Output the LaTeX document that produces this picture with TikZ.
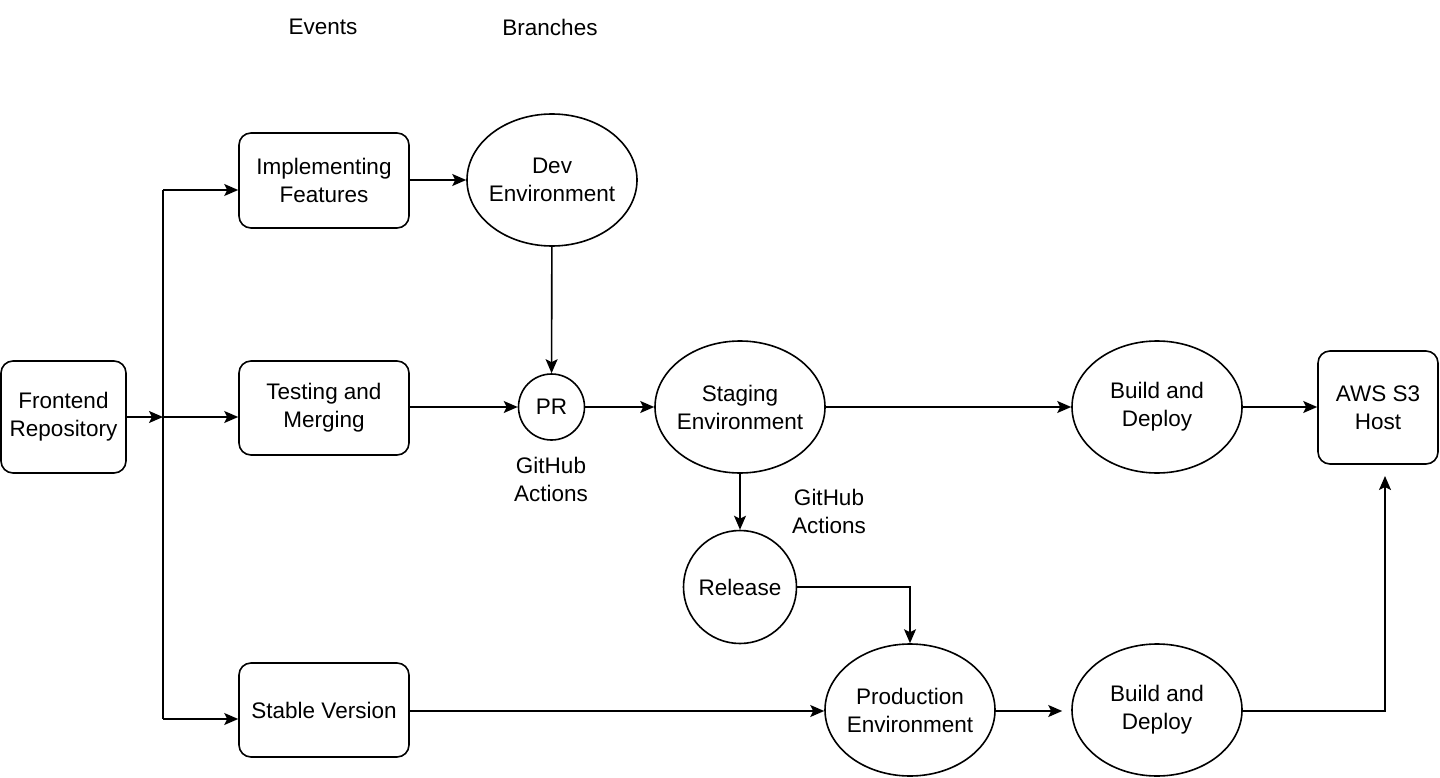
\documentclass[tikz,border=0pt]{standalone}
\usepackage{fontspec}
\setmainfont{Liberation Sans}
\usetikzlibrary{arrows.meta,shapes.geometric,calc}
\begin{document}
\begin{tikzpicture}[x=1pt,y=-1pt,
  every node/.style={font=\fontsize{22.5}{28}\selectfont, align=center, inner sep=0pt},
  rbox/.style={draw, line width=1.6pt, rounded corners=12pt, minimum width=#1},
  ell/.style={draw, line width=1.6pt, ellipse, inner sep=-14pt, minimum width=170pt, minimum height=132pt},
  circ/.style={draw, line width=1.6pt, circle, inner sep=-14pt, minimum size=#1},
  arr/.style={line width=1.6pt, -{Stealth[length=14pt,width=12pt,inset=3pt]}},
  ln/.style={line width=1.6pt}]
\useasboundingbox (0,0) rectangle (1440,778);
% labels
\node (events) at (323,27) {Events};
\node (branches) at (550,27) {Branches};
% nodes
\node[rbox=125pt, minimum height=112pt] (repo) at (63.5,417) {Frontend\\Repository};
\node[rbox=170pt, minimum height=95pt] (impl) at (324,180.5) {Implementing\\Features};
\node[rbox=170pt, minimum height=94pt] (test) at (324,408) {Testing and\\Merging};
\node[rbox=170pt, minimum height=94pt] (stable) at (324,710) {Stable Version};
\node[ell] (dev) at (552,180) {Dev\\Environment};
\node[circ=66pt] (pr) at (551.5,407) {PR};
\node (gh1) at (551,479) {GitHub\\Actions};
\node[ell] (staging) at (740,407) {Staging\\Environment};
\node (gh2) at (829,511) {GitHub\\Actions};
\node[circ=113pt] (release) at (740,587) {Release};
\node[ell] (prod) at (910,710) {Production\\Environment};
\node[ell] (bd1) at (1157,407) {Build and\\Deploy};
\node[ell] (bd2) at (1157,710) {Build and\\Deploy};
\node[rbox=120pt, minimum height=113pt] (aws) at (1378,407.5) {AWS S3\\Host};
% branch structure
\coordinate (j) at (163,417);
\coordinate (jt) at (163,190);
\coordinate (jb) at (163,719);
\draw[arr] (repo.east |- j) -- (j);
\draw[ln] (jt) -- (jb);
\draw[arr] (jt) -- (impl.west |- jt);
\draw[arr] (j) -- (test.west |- j);
\draw[arr] (jb) -- (stable.west |- jb);
% flow
\draw[arr] (impl.east |- dev) -- (dev);
\draw[arr] (dev) -- (pr);
\draw[arr] (test.east |- pr) -- (pr);
\draw[arr] (pr) -- (staging);
\draw[arr] (staging) -- (bd1);
\draw[arr] (bd1) -- (aws.west |- bd1);
\draw[arr] (staging) -- (release);
\draw[arr] (release.east) -| (prod.north);
\draw[arr] (stable.east |- 0,711) -- (prod.west |- 0,711);
\draw[arr, shorten >=9pt] (prod.east |- 0,711) -- (bd2.west |- 0,711);
\coordinate (awsin) at (1385,476);
\draw[arr] (bd2.east |- 0,711) -| (awsin);
\end{tikzpicture}
\end{document}
